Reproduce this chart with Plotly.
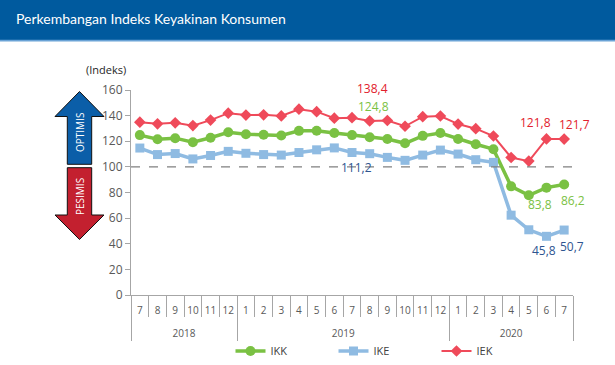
import plotly.graph_objects as go

# ---------------- data ----------------
years = ["2018"] * 6 + ["2019"] * 12 + ["2020"] * 7
months = ["7", "8", "9", "10", "11", "12",
          "1", "2", "3", "4", "5", "6", "7", "8", "9", "10", "11", "12",
          "1", "2", "3", "4", "5", "6", "7"]
ikk = [124.8, 121.6, 122.4, 119.2, 122.7, 127.0,
       125.5, 125.1, 124.5, 128.1, 128.2, 126.4, 124.8, 123.1, 121.8, 118.4, 124.2, 126.4,
       121.7, 117.7, 113.8, 84.8, 77.8, 83.8, 86.2]
ike = [114.7, 109.6, 110.4, 106.2, 108.9, 112.1,
       110.6, 109.6, 109.2, 111.2, 113.3, 114.8, 111.2, 110.3, 107.4, 105.1, 109.2, 113.1,
       110.0, 105.6, 103.5, 62.3, 50.9, 45.8, 50.7]
iek = [134.9, 133.6, 134.4, 132.2, 136.5, 141.9,
       140.4, 140.6, 139.8, 145.0, 143.1, 138.0, 138.4, 135.9, 136.2, 131.7, 139.2, 139.7,
       133.4, 129.8, 124.1, 107.3, 104.5, 121.8, 121.7]
series_names = ["IKK", "IKE", "IEK"]
labeled_idx = [12, 23, 24]
title_text = "Perkembangan Indeks Keyakinan Konsumen"
y_title = "(Indeks)"
optimis_text = "OPTIMIS"
pesimis_text = "PESIMIS"
threshold = 100
y_ticks = [0, 20, 40, 60, 80, 100, 120, 140, 160]

# ---------------- geometry helpers ----------------
W, H = 615, 365
L, R, T, B = 131, 42, 90, 70
PW, PH = W - L - R, H - T - B


def px(x):
    return (x - L) / PW


def py(y):
    return (H - B - y) / PH


GREEN = "#7ac143"
BLUE = "#8fbbe2"
RED = "#ef4a5a"
LBL_RED = "#e2202c"
LBL_GREEN = "#7ac143"
LBL_BLUE = "#2e5590"
FONT = "Open Sans"

# month keys: the first year's months get an invisible suffix so plotly keeps the
# later years' months in calendar order; a blank second line adds room for the
# year row under the month row
month_keys = [m + ("\u200b" if y == years[0] else "") + "<br>\u00a0"
              for y, m in zip(years, months)]
xcat = [years, month_keys]

fig = go.Figure()
fig.add_trace(go.Scatter(x=xcat, y=ikk, name=series_names[0], mode="lines+markers",
                         line=dict(color=GREEN, width=3.5),
                         marker=dict(symbol="circle", size=10, color=GREEN)))
fig.add_trace(go.Scatter(x=xcat, y=ike, name=series_names[1], mode="lines+markers",
                         line=dict(color=BLUE, width=3.5),
                         marker=dict(symbol="square", size=9, color=BLUE)))
fig.add_trace(go.Scatter(x=xcat, y=iek, name=series_names[2], mode="lines+markers",
                         line=dict(color=RED, width=2),
                         marker=dict(symbol="diamond", size=9, color=RED)))


def fmt(v):
    return f"{v:.1f}".replace(".", ",")


ann = []
label_specs = [
    (iek, LBL_RED, {12: (20, 29), 23: (-11, 16), 24: (10, 15)}),
    (ikk, LBL_GREEN, {12: (21, 29), 23: (-6, -17), 24: (9, -16)}),
    (ike, LBL_BLUE, {12: (4, -15), 23: (-2, -14), 24: (8, -16)}),
]
for vals, col, shifts in label_specs:
    for i in labeled_idx:
        dx, dy = shifts[i]
        ann.append(dict(x=i, y=vals[i], xref="x", yref="y", text=fmt(vals[i]),
                        showarrow=False, xshift=dx, yshift=dy,
                        xanchor="center", yanchor="middle",
                        font=dict(family=FONT, size=12, color=col)))

ann.append(dict(x=px(14), y=py(19), xref="paper", yref="paper", xanchor="left",
                yanchor="middle", text=title_text, showarrow=False,
                font=dict(family="Lato", size=14, color="#ffffff")))
ann.append(dict(x=px(106), y=py(70), xref="paper", yref="paper", xanchor="center",
                yanchor="middle", text=y_title, showarrow=False,
                font=dict(family=FONT, size=11, color="#262626")))
ann.append(dict(x=px(80), y=py(133), xref="paper", yref="paper", textangle=-90,
                xanchor="center", yanchor="middle",
                text=optimis_text, showarrow=False,
                font=dict(family=FONT, size=10, color="#ffffff")))
ann.append(dict(x=px(80), y=py(197), xref="paper", yref="paper", textangle=-90,
                xanchor="center", yanchor="middle",
                text=pesimis_text, showarrow=False,
                font=dict(family=FONT, size=10, color="#ffffff")))


def path(points):
    return "M " + " L ".join(f"{px(a):.5f},{py(b):.5f}" for a, b in points) + " Z"


up_arrow = [(79.5, 91.5), (104, 116.5), (91.7, 116.5), (91.7, 164.3),
            (67.3, 164.3), (67.3, 116.5), (55, 116.5)]
down_arrow = [(67.3, 167.7), (91.7, 167.7), (91.7, 215), (104, 215),
              (79.5, 239.5), (55, 215), (67.3, 215)]

shapes = [
    dict(type="rect", xref="paper", yref="paper", x0=px(0), x1=px(W), y0=py(40), y1=py(0),
         fillcolor="#005a9e", line=dict(width=0), layer="below"),
    dict(type="rect", xref="paper", yref="paper", x0=px(0), x1=px(W), y0=py(41.5), y1=py(39.8),
         fillcolor="#6aa3d6", line=dict(width=0), layer="below"),
    dict(type="line", xref="paper", yref="y", x0=0, x1=1, y0=threshold, y1=threshold,
         line=dict(color="#808080", width=1.2, dash="dash")),
    dict(type="path", xref="paper", yref="paper", path=path(up_arrow),
         fillcolor="#0b5ea8", line=dict(color="#111111", width=1)),
    dict(type="path", xref="paper", yref="paper", path=path(down_arrow),
         fillcolor="#c3202f", line=dict(color="#111111", width=1)),
]

fig.update_layout(
    width=W, height=H,
    margin=dict(l=L, r=R, t=T, b=B, pad=0, autoexpand=False),
    paper_bgcolor="white", plot_bgcolor="white",
    font=dict(family=FONT, color="#595959"),
    showlegend=True,
    legend=dict(orientation="h", xref="container", yref="container",
                x=385 / W, xanchor="center", y=1 - 351 / H, yanchor="middle",
                font=dict(family=FONT, size=11, color="#404040"),
                entrywidth=58, entrywidthmode="pixels", bgcolor="rgba(0,0,0,0)"),
    annotations=ann,
    shapes=shapes,
    xaxis=dict(type="multicategory", range=[-0.5, 24.5], showline=True,
               linecolor="#a6a6a6", linewidth=1, ticks="outside", ticklen=21,
               tickcolor="#a6a6a6", showdividers=True, dividercolor="#a6a6a6",
               dividerwidth=1, tickfont=dict(size=10, color="#595959"),
               tickangle=0, ticklabelstandoff=6, automargin=False,
               showgrid=False, zeroline=False),
    yaxis=dict(range=[0, 160], tickvals=y_ticks, showline=True, linecolor="#a6a6a6",
               linewidth=1, ticks="outside", ticklen=5, tickcolor="#a6a6a6",
               tickfont=dict(size=12, color="#595959"), showgrid=False, zeroline=False,
               automargin=False),
)

fig.write_html("out.html", config={"displayModeBar": False},
               post_script="document.body.style.margin='0';")
